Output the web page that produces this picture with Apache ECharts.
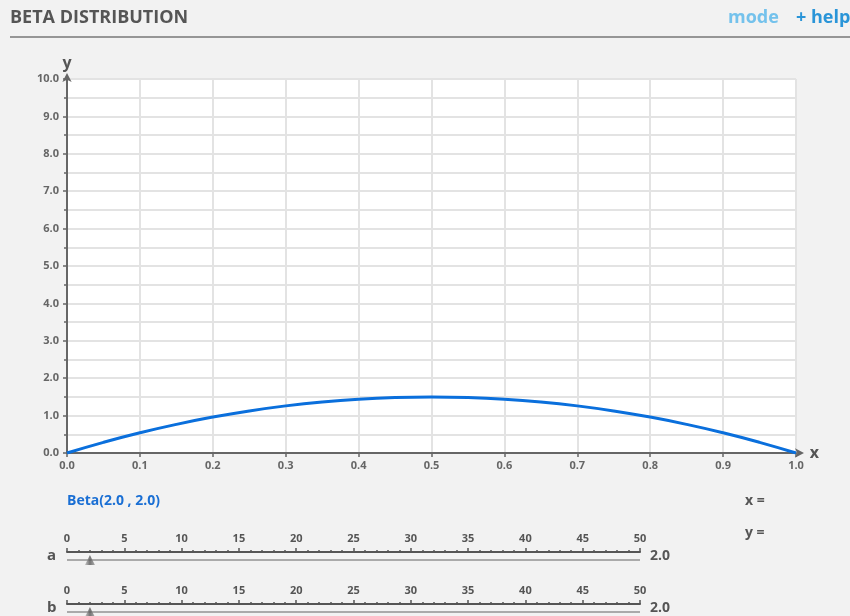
<!DOCTYPE html>
<html><head><meta charset="utf-8">
<script src="https://cdn.jsdelivr.net/npm/echarts@6/dist/echarts.min.js"></script>
<style>html,body{margin:0;padding:0;background:#f2f2f2}#c{width:850px;height:616px}</style>
</head><body><div id="c"></div>
<script>
// ---- data ----
const xVals = [0,0.05,0.1,0.15,0.2,0.25,0.3,0.35,0.4,0.45,0.5,0.55,0.6,0.65,0.7,0.75,0.8,0.85,0.9,0.95,1.0];
const pdfVals = [0,0.285,0.54,0.765,0.96,1.125,1.26,1.365,1.44,1.485,1.5,1.485,1.44,1.365,1.26,1.125,0.96,0.765,0.54,0.285,0];
const aValue = 2.0;
const bValue = 2.0;
const sliderRange = [0, 50];
const titleText = 'BETA DISTRIBUTION';
const curveLabel = 'Beta(' + aValue.toFixed(1) + ' , ' + bValue.toFixed(1) + ')';

const FONT = '"Open Sans", "DejaVu Sans", sans-serif';
const AX = '#666';
const curve = xVals.map((x, i) => [x, pdfVals[i]]);

function sliderAxis(gi) {
  return {
    gridIndex: gi, type: 'value', position: 'top', min: sliderRange[0], max: sliderRange[1], interval: 5,
    axisLine: {show: true, onZero: false, lineStyle: {color: '#555', width: 2}},
    axisTick: {show: true, length: 4, lineStyle: {color: '#555', width: 1.5}},
    minorTick: {show: true, splitNumber: 5, length: 2, lineStyle: {color: '#555', width: 1.5}},
    splitLine: {show: false},
    axisLabel: {color: '#555', fontFamily: FONT, fontWeight: 'bold', fontSize: 11, margin: 8}
  };
}
function sliderY(gi) {
  return {gridIndex: gi, type: 'value', min: 0, max: 1, show: false};
}
function sliderSeries(gi, val) {
  return [
    {type: 'line', xAxisIndex: gi, yAxisIndex: gi, data: [[sliderRange[0], 0], [sliderRange[1], 0]],
     symbol: 'none', lineStyle: {color: '#aaa', width: 2}, silent: true, z: 2},
    {type: 'scatter', xAxisIndex: gi, yAxisIndex: gi, data: [[val, 0]], symbol: 'triangle',
     symbolSize: [10, 10], itemStyle: {color: new echarts.graphic.LinearGradient(0, 0, 1, 0, [
       {offset: 0, color: '#bbb'}, {offset: 0.5, color: '#555'}, {offset: 1, color: '#999'}])}, silent: true, z: 5}
  ];
}
function txt(text, left, top, size, color) {
  return {text: text, left: left, top: top, padding: 0,
          textStyle: {fontFamily: FONT, fontSize: size, fontWeight: 'bold', color: color}};
}

const chart = echarts.init(document.getElementById('c'));
chart.setOption({
  backgroundColor: '#f2f2f2',
  animation: false,
  title: [
    txt(titleText, 10, 9, 18, '#555'),
    txt('mode', 728, 9, 18, '#74c2ec'),
    txt('+ help', 796, 9, 18, '#2a95d8'),
    txt(curveLabel, 67, 494, 14, '#1a6fd4'),
    txt('x =', 745, 494, 14, '#555'),
    txt('y =', 745, 526, 14, '#555'),
    txt('a', 47, 548, 15, '#555'),
    txt(aValue.toFixed(1), 650, 549, 14, '#555'),
    txt('b', 47, 600, 15, '#555'),
    txt(bValue.toFixed(1), 650, 601, 14, '#555')
  ],
  graphic: [
    {type: 'line', shape: {x1: 10, y1: 37, x2: 850, y2: 37}, style: {stroke: '#777', lineWidth: 1.5}}
  ],
  grid: [
    {left: 67, right: 54, top: 79, bottom: 163, show: true, backgroundColor: '#fff', borderWidth: 0},
    {left: 67, width: 573, top: 552, height: 8},
    {left: 67, width: 573, top: 604, height: 8}
  ],
  xAxis: [
    {gridIndex: 0, type: 'value', min: 0, max: 1, interval: 0.1, name: 'x', nameGap: 5,
     nameTextStyle: {fontFamily: FONT, fontSize: 16, fontWeight: 'bold', color: '#555', verticalAlign: 'middle'},
     axisLine: {show: true, symbol: ['none', 'arrow'], symbolSize: [7, 9], symbolOffset: [0, 8], lineStyle: {color: AX, width: 2}},
     axisTick: {show: true, length: 4, lineStyle: {color: AX, width: 1.5}},
     splitLine: {show: true, lineStyle: {color: '#e3e3e3', width: 2}},
     axisLabel: {color: '#666', fontFamily: FONT, fontWeight: 'bold', fontSize: 11, margin: 7, formatter: v => v.toFixed(1)}},
    sliderAxis(1), sliderAxis(2)
  ],
  yAxis: [
    {gridIndex: 0, type: 'value', min: 0, max: 10, interval: 1, name: 'y', nameGap: 8,
     nameTextStyle: {fontFamily: FONT, fontSize: 16, fontWeight: 'bold', color: '#555'},
     axisLine: {show: true, symbol: ['none', 'arrow'], symbolSize: [7, 9], symbolOffset: [0, 6], lineStyle: {color: AX, width: 2}},
     axisTick: {show: true, length: 4, lineStyle: {color: AX, width: 1.5}},
     minorTick: {show: true, splitNumber: 2, length: 3, lineStyle: {color: AX, width: 1.5}},
     splitLine: {show: true, lineStyle: {color: '#e3e3e3', width: 2}},
     minorSplitLine: {show: true, lineStyle: {color: '#e3e3e3', width: 2}},
     axisLabel: {color: '#666', fontFamily: FONT, fontWeight: 'bold', fontSize: 11, margin: 8, formatter: v => v.toFixed(1)}},
    sliderY(1), sliderY(2)
  ],
  series: [
    {type: 'line', xAxisIndex: 0, yAxisIndex: 0, data: curve, smooth: true, symbol: 'none',
     lineStyle: {color: '#0a6fdc', width: 3}, z: 5}
  ].concat(sliderSeries(1, aValue), sliderSeries(2, bValue))
});
</script></body></html>
